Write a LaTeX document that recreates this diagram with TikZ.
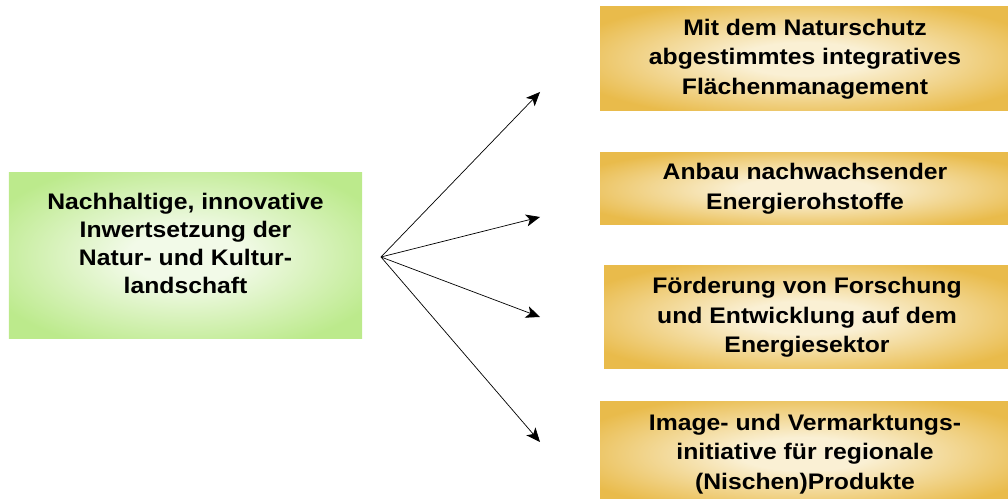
\documentclass[tikz,border=0pt]{standalone}
\usepackage{fontspec}
\setmainfont{Liberation Sans}[FakeStretch=1.1]
\usetikzlibrary{arrows.meta, positioning}
\definecolor{goldout}{RGB}{233,187,75}
\definecolor{goldin}{RGB}{250,240,212}
\definecolor{greenout}{RGB}{188,234,140}
\definecolor{greenin}{RGB}{242,250,232}
\pgfdeclareradialshading{goldglow}{\pgfpoint{0bp}{0bp}}{color(0bp)=(goldin); color(8bp)=(goldin); color(30bp)=(goldout); color(50bp)=(goldout)}
\pgfdeclareradialshading{greenglow}{\pgfpoint{0bp}{0bp}}{color(0bp)=(greenin); color(8bp)=(greenin); color(30bp)=(greenout); color(50bp)=(greenout)}
\tikzset{
	goalbox/.style={rectangle, shading=greenglow, align=center, minimum width=8.825cm, minimum height=4.15cm, font=\fontsize{16}{20}\selectfont\bfseries},
	measurebox/.style={rectangle, shading=goldglow, align=center, minimum width=10.25cm, font=\fontsize{16}{21}\selectfont\bfseries},
	arr/.style={-{Stealth[length=3.5mm, width=3mm, inset=0.9mm]}, line width=0.5pt}
}

\begin{document}
\begin{tikzpicture}
        \useasboundingbox (0,0) rectangle (25.2,12.475);
        \node[goalbox] (goal) at (4.6375, 6.075) {Nachhaltige, innovative\\Inwertsetzung der\\Natur- und Kultur-\\landschaft\\[-2pt]\mbox{}};

        \node[measurebox, minimum height=2.6cm] (flaeche) at (20.125, 11.0) {Mit dem Naturschutz\\abgestimmtes integratives\\Flächenmanagement};
        \node[measurebox, minimum height=1.8cm] (anbau) at (20.125, 7.75) {Anbau nachwachsender\\Energierohstoffe};
        \node[measurebox, minimum height=2.575cm, minimum width=10.15cm] (forschung) at (20.175, 4.5375) {Förderung von Forschung\\und Entwicklung auf dem\\Energiesektor};
        \node[measurebox, minimum height=2.6cm] (image) at (20.125, 1.125) {Image- und Vermarktungs-\\initiative für regionale\\(Nischen)Produkte};

        \coordinate (hub) at (9.525, 6.05);
        \coordinate (t1) at (13.5, 10.175);
        \coordinate (t2) at (13.5, 7.05);
        \coordinate (t3) at (13.5, 4.55);
        \coordinate (t4) at (13.5, 1.425);

        \draw[arr] (hub) -- (t1);
        \draw[arr] (hub) -- (t2);
        \draw[arr] (hub) -- (t3);
        \draw[arr] (hub) -- (t4);
\end{tikzpicture}
\end{document}
